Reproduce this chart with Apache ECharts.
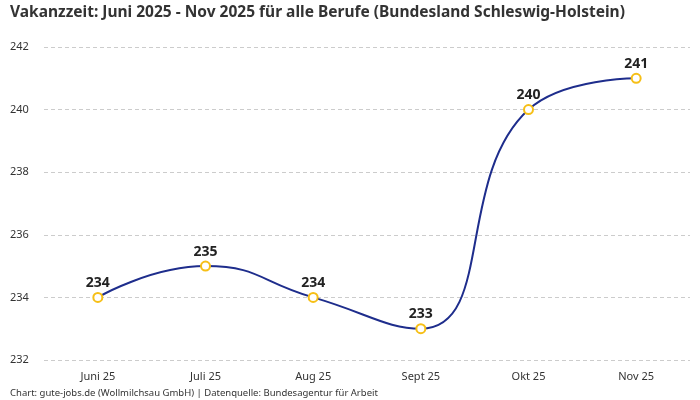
<!DOCTYPE html>
<html><head><meta charset="utf-8">
<script src="https://cdn.jsdelivr.net/npm/echarts@6/dist/echarts.min.js"></script>
<style>html,body{margin:0;padding:0;background:#fff}#c{width:700px;height:400px}</style>
</head><body><div id="c"></div>
<script>
const categories = ["Juni 25","Juli 25","Aug 25","Sept 25","Okt 25","Nov 25"];
const values = [234, 235, 234, 233, 240, 241];
const titleText = "Vakanzzeit: Juni 2025 - Nov 2025 für alle Berufe (Bundesland Schleswig-Holstein)";
const footerText = "Chart: gute-jobs.de (Wollmilchsau GmbH) | Datenquelle: Bundesagentur für Arbeit";
const font = "'Noto Sans', Roboto, sans-serif";
const chart = echarts.init(document.getElementById('c'));
chart.setOption({
  animation: false,
  title: [
    {text: titleText, left: 5, top: 0, textStyle: {fontFamily: font, fontSize: 15.5, fontWeight: 'bold', color: '#333'}},
    {text: footerText, left: 5, top: 383, textStyle: {fontFamily: font, fontSize: 9.5, fontWeight: 'normal', color: '#333'}}
  ],
  grid: {left: 44, right: 10, top: 47, bottom: 40, containLabel: false},
  xAxis: {
    type: 'category', data: categories, boundaryGap: true,
    axisLine: {show: false}, axisTick: {show: false},
    axisLabel: {fontFamily: font, fontSize: 11, color: '#333', margin: 11}
  },
  yAxis: {
    type: 'value', min: 232, max: 242, interval: 2,
    axisLine: {show: false}, axisTick: {show: false},
    axisLabel: {fontFamily: font, fontSize: 11, color: '#333', align: 'left', margin: 34},
    splitLine: {lineStyle: {type: [4, 3], color: '#cccccc', width: 1}}
  },
  series: [{
    type: 'line', data: values, smooth: 0.5,
    lineStyle: {color: '#1e2d8c', width: 2},
    symbol: 'circle', symbolSize: 9,
    itemStyle: {color: '#ffffff', borderColor: '#f6bf16', borderWidth: 2},
    label: {show: true, position: 'top', distance: 2, fontFamily: font, fontSize: 14, fontWeight: 'bold', color: '#222'}
  }]
});
</script></body></html>
